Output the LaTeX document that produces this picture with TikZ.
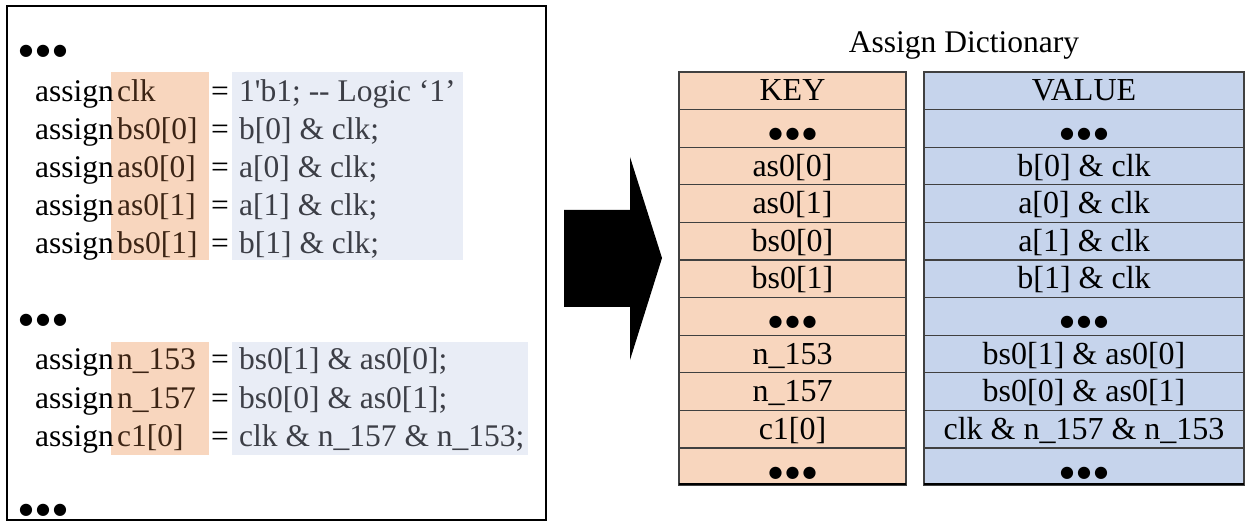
\documentclass[tikz,border=0pt]{standalone}
\usepackage{fontspec}
\setmainfont{Liberation Serif}
\newfontfamily\dejavu{DejaVu Sans}
\definecolor{hlor}{HTML}{F8D6BE}
\definecolor{hlbl}{HTML}{E9EDF6}
\definecolor{tbbl}{HTML}{C6D4EC}
\definecolor{txor}{HTML}{3C2414}
\definecolor{txbl}{HTML}{3C3E46}
\definecolor{gridc}{HTML}{404040}
\newcommand{\tdots}{{\dejavu\fontsize{16}{16}\selectfont ●\kern3pt●\kern3pt●}}
\begin{document}
\begin{tikzpicture}[x=1pt,y=-1pt,
  code/.style={font=\fontsize{31.5}{37}\selectfont, inner sep=0pt, anchor=base west},
  keytxt/.style={code, text=txor},
  valtxt/.style={code, text=txbl},
  cell/.style={font=\fontsize{32}{37}\selectfont, inner sep=0pt, anchor=base},
  keycol/.style={fill=hlor, draw=gridc, line width=1.2pt},
  valcol/.style={fill=tbbl, draw=gridc, line width=1.2pt}]
\useasboundingbox (0,0) rectangle (1245,521);
\fill[white] (0,0) rectangle (1245,521);
% highlights
\fill[hlor] (111,72) rectangle (209,260);
\fill[hlbl] (232,72) rectangle (463,260);
\fill[hlor] (111,342) rectangle (209,455);
\fill[hlbl] (232,342) rectangle (528,455);
% code panel
\draw[line width=2.5pt] (7,6) rectangle (546,520);
\node[code] (d1) at (19,56) {\tdots};
\foreach \y/\k/\v [count=\i] in {102/clk/{1\textquotesingle b1; {-}{-} Logic `1'},
  140/{bs0[0]}/{b[0] \& clk;}, 178/{as0[0]}/{a[0] \& clk;},
  216/{as0[1]}/{a[1] \& clk;}, 254/{bs0[1]}/{b[1] \& clk;}}{
  \node[code] (as\i) at (35,\y) {assign};
  \node[keytxt] (k\i) at (117,\y) {\k};
  \node[code] (eq\i) at (211,\y) {=};
  \node[valtxt] (v\i) at (239,\y) {\v};
}
\node[code] (d2) at (19,324) {\tdots};
\foreach \y/\k/\v [count=\i] in {370/{n\_153}/{bs0[1] \& as0[0];},
  408/{n\_157}/{bs0[0] \& as0[1];}, 446/{c1[0]}/{clk \& n\_157 \& n\_153;}}{
  \node[code] (bs\i) at (35,\y) {assign};
  \node[keytxt] (bk\i) at (117,\y) {\k};
  \node[code] (beq\i) at (211,\y) {=};
  \node[valtxt] (bv\i) at (239,\y) {\v};
}
\node[code] (d3) at (19,514) {\tdots};
% arrow
\fill (564,210) -- (630,210) -- (630,157) -- (662,258) -- (630,360) -- (630,307) -- (564,307) -- cycle;
% table
\node[font=\fontsize{31.5}{37}\selectfont, inner sep=0pt, anchor=base] (title) at (964,53) {Assign Dictionary};
\foreach \i/\k/\v in {0/KEY/VALUE, 1/\tdots/\tdots, 2/{as0[0]}/{b[0] \& clk},
  3/{as0[1]}/{a[0] \& clk}, 4/{bs0[0]}/{a[1] \& clk}, 5/{bs0[1]}/{b[1] \& clk},
  6/\tdots/\tdots, 7/{n\_153}/{bs0[1] \& as0[0]}, 8/{n\_157}/{bs0[0] \& as0[1]},
  9/{c1[0]}/{clk \& n\_157 \& n\_153}, 10/\tdots/\tdots}{
  \draw[keycol] (679,72+37.6*\i) rectangle (906,72+37.6*\i+37.6);
  \draw[valcol] (924,72+37.6*\i) rectangle (1244,72+37.6*\i+37.6);
  \node[cell] (tk\i) at (792.5,72+37.6*\i+29) {\k};
  \node[cell] (tv\i) at (1084,72+37.6*\i+29) {\v};
}
\draw[line width=2.2pt] (679,484) -- (906,484);
\draw[line width=2.2pt] (924,484) -- (1244,484);
\end{tikzpicture}
\end{document}
